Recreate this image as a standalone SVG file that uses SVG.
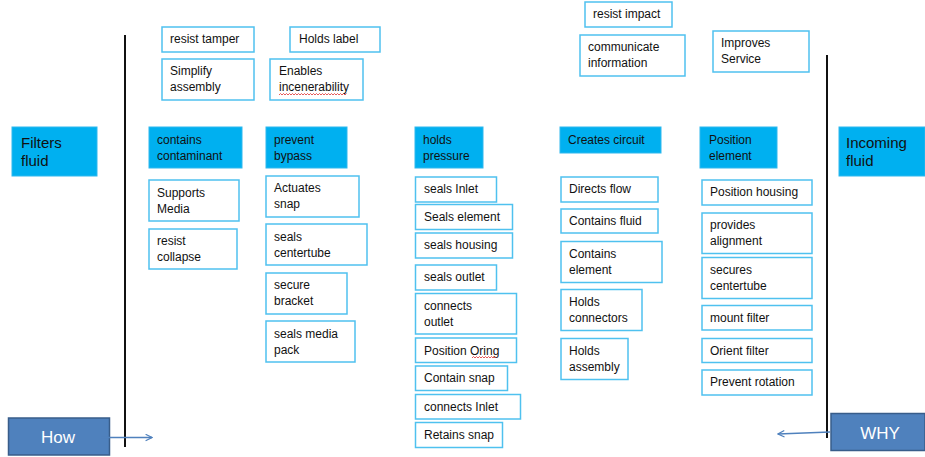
<svg xmlns="http://www.w3.org/2000/svg" width="925" height="457" viewBox="0 0 925 457">
<style>
.b{fill:#fff;stroke:#4FC1EF;stroke-width:1.5}
.h{fill:#00B0F0;stroke:#2FB8EE;stroke-width:1}
.k{fill:#4F81BD;stroke:#385D8A;stroke-width:1.5}
text{font-family:"Liberation Sans",Arial,sans-serif;font-size:12px;fill:#111}
.big{font-size:15px}
.w{font-size:17px;fill:#fff;text-anchor:middle}
.sq{fill:none;stroke:#E03030;stroke-width:0.8}
</style>
<defs>
<marker id="ar" viewBox="0 0 10 10" refX="9" refY="5" markerWidth="8" markerHeight="8" orient="auto" markerUnits="userSpaceOnUse">
<path d="M1,1 L9,5 L1,9" fill="none" stroke="#4F81BD" stroke-width="1.5"/>
</marker>
</defs>
<g id="axes">
<line x1="125" y1="35" x2="125" y2="447" stroke="#111" stroke-width="2"/>
<line x1="827" y1="55" x2="827" y2="438" stroke="#111" stroke-width="2"/>
</g>
<g id="n-filters"><rect class="h" x="12" y="127" width="85" height="49"/><text class="big" x="21" y="148">Filters</text><text class="big" x="21" y="166">fluid</text></g>
<g id="n-incoming"><rect class="h" x="839" y="127" width="86" height="49"/><text class="big" x="846" y="148">Incoming</text><text class="big" x="846" y="166">fluid</text></g>
<g id="n-how"><rect class="k" x="8.5" y="418" width="101" height="37"/><text class="w" x="58" y="443">How</text></g>
<g id="n-why"><rect class="k" x="831" y="413.5" width="94" height="37"/><text class="w" x="880" y="439">WHY</text></g>

<g id="n-resist-tamper"><rect class="b" x="162" y="27" width="92" height="25"/><text x="170" y="43">resist tamper</text></g>
<g id="n-holds-label"><rect class="b" x="290" y="27" width="90" height="25"/><text x="299" y="43">Holds label</text></g>
<g id="n-simplify"><rect class="b" x="162" y="59" width="92" height="41"/><text x="170" y="75">Simplify</text><text x="170" y="91">assembly</text></g>
<g id="n-enables"><rect class="b" x="270" y="59" width="93" height="41"/><text x="279" y="75">Enables</text><text x="279" y="91">incenerability</text>
<path class="sq" d="M279,95 l1.5,-1.5 l1.5,1.5 l1.5,-1.5 l1.5,1.5 l1.5,-1.5 l1.5,1.5 l1.5,-1.5 l1.5,1.5 l1.5,-1.5 l1.5,1.5 l1.5,-1.5 l1.5,1.5 l1.5,-1.5 l1.5,1.5 l1.5,-1.5 l1.5,1.5 l1.5,-1.5 l1.5,1.5 l1.5,-1.5 l1.5,1.5 l1.5,-1.5 l1.5,1.5 l1.5,-1.5 l1.5,1.5 l1.5,-1.5 l1.5,1.5 l1.5,-1.5 l1.5,1.5 l1.5,-1.5 l1.5,1.5 l1.5,-1.5 l1.5,1.5 l1.5,-1.5 l1.5,1.5 l1.5,-1.5 l1.5,1.5 l1.5,-1.5 l1.5,1.5 l1.5,-1.5 l1.5,1.5 l1.5,-1.5 l1.5,1.5 l1.5,-1.5 l1.5,1.5 l1.5,-1.5"/></g>
<g id="n-resist-impact"><rect class="b" x="585" y="2" width="87" height="25"/><text x="593" y="18">resist impact</text></g>
<g id="n-communicate"><rect class="b" x="580" y="35" width="105" height="41"/><text x="588" y="51">communicate</text><text x="588" y="67">information</text></g>
<g id="n-improves"><rect class="b" x="713" y="31" width="96" height="41"/><text x="721" y="47">Improves</text><text x="721" y="63">Service</text></g>

<g id="n-contains-contaminant"><rect class="h" x="149" y="127" width="93" height="41"/><text x="157" y="144">contains</text><text x="157" y="160">contaminant</text></g>
<g id="n-prevent-bypass"><rect class="h" x="266" y="127" width="81" height="41"/><text x="274" y="144">prevent</text><text x="274" y="160">bypass</text></g>
<g id="n-holds-pressure"><rect class="h" x="415" y="127" width="68" height="41"/><text x="423" y="144">holds</text><text x="423" y="160">pressure</text></g>
<g id="n-creates-circuit"><rect class="h" x="560" y="127" width="101" height="26"/><text x="568" y="144">Creates circuit</text></g>
<g id="n-position-element"><rect class="h" x="700" y="127" width="77" height="41"/><text x="709" y="144">Position</text><text x="709" y="160">element</text></g>

<g id="n-supports-media"><rect class="b" x="149" y="180" width="90" height="41"/><text x="157" y="197">Supports</text><text x="157" y="213">Media</text></g>
<g id="n-resist-collapse"><rect class="b" x="149" y="229" width="88" height="40"/><text x="157" y="245">resist</text><text x="157" y="261">collapse</text></g>

<g id="n-actuates-snap"><rect class="b" x="266" y="176" width="93" height="41"/><text x="274" y="192">Actuates</text><text x="274" y="208">snap</text></g>
<g id="n-seals-centertube"><rect class="b" x="266" y="224" width="101" height="41"/><text x="274" y="241">seals</text><text x="274" y="257">centertube</text></g>
<g id="n-secure-bracket"><rect class="b" x="266" y="273" width="81" height="41"/><text x="274" y="289">secure</text><text x="274" y="305">bracket</text></g>
<g id="n-seals-media-pack"><rect class="b" x="266" y="321" width="89" height="41"/><text x="274" y="338">seals media</text><text x="274" y="354">pack</text></g>

<g id="n-seals-inlet"><rect class="b" x="415.5" y="177" width="81" height="25"/><text x="424" y="193">seals Inlet</text></g>
<g id="n-seals-element"><rect class="b" x="415.5" y="204.5" width="97" height="25"/><text x="424" y="221">Seals element</text></g>
<g id="n-seals-housing"><rect class="b" x="415.5" y="233" width="97" height="25"/><text x="424" y="249">seals housing</text></g>
<g id="n-seals-outlet"><rect class="b" x="415.5" y="265" width="81" height="25"/><text x="424" y="281">seals outlet</text></g>
<g id="n-connects-outlet"><rect class="b" x="415.5" y="293.5" width="101" height="40.5"/><text x="424" y="310">connects</text><text x="424" y="326">outlet</text></g>
<g id="n-position-oring"><rect class="b" x="415.5" y="338" width="101" height="24.5"/><text x="424" y="355">Position Oring</text>
<path class="sq" d="M472,358 l1.5,-1.5 l1.5,1.5 l1.5,-1.5 l1.5,1.5 l1.5,-1.5 l1.5,1.5 l1.5,-1.5 l1.5,1.5 l1.5,-1.5 l1.5,1.5 l1.5,-1.5 l1.5,1.5 l1.5,-1.5 l1.5,1.5 l1.5,-1.5 l1.5,1.5"/></g>
<g id="n-contain-snap"><rect class="b" x="415.5" y="366" width="92" height="24.5"/><text x="424" y="382">Contain snap</text></g>
<g id="n-connects-inlet"><rect class="b" x="415.5" y="394.5" width="105" height="24.5"/><text x="424" y="411">connects Inlet</text></g>
<g id="n-retains-snap"><rect class="b" x="415.5" y="422.5" width="87" height="25"/><text x="424" y="439">Retains snap</text></g>

<g id="n-directs-flow"><rect class="b" x="561" y="177" width="97" height="25"/><text x="569" y="193">Directs flow</text></g>
<g id="n-contains-fluid"><rect class="b" x="561" y="209" width="97" height="24"/><text x="569" y="225">Contains fluid</text></g>
<g id="n-contains-element"><rect class="b" x="561" y="241.5" width="101" height="41"/><text x="569" y="258">Contains</text><text x="569" y="274">element</text></g>
<g id="n-holds-connectors"><rect class="b" x="561" y="289.5" width="81" height="41"/><text x="569" y="306">Holds</text><text x="569" y="322">connectors</text></g>
<g id="n-holds-assembly"><rect class="b" x="561" y="338.5" width="67" height="41"/><text x="569" y="355">Holds</text><text x="569" y="371">assembly</text></g>

<g id="n-position-housing"><rect class="b" x="702" y="180" width="110" height="25"/><text x="710" y="196">Position housing</text></g>
<g id="n-provides-alignment"><rect class="b" x="702" y="213" width="110" height="40.5"/><text x="710" y="229">provides</text><text x="710" y="245">alignment</text></g>
<g id="n-secures-centertube"><rect class="b" x="702" y="257.5" width="110" height="41"/><text x="710" y="274">secures</text><text x="710" y="290">centertube</text></g>
<g id="n-mount-filter"><rect class="b" x="702" y="305.5" width="110" height="24.5"/><text x="710" y="322">mount  filter</text></g>
<g id="n-orient-filter"><rect class="b" x="702" y="338.5" width="110" height="24"/><text x="710" y="355">Orient filter</text></g>
<g id="n-prevent-rotation"><rect class="b" x="702" y="370" width="110" height="25"/><text x="710" y="386">Prevent rotation</text></g>

<g id="connectors" stroke="#4F81BD" stroke-width="1.5" fill="none">
<line x1="101" y1="437.5" x2="152" y2="437.5" marker-end="url(#ar)"/>
<line x1="830" y1="432" x2="778" y2="434" marker-end="url(#ar)"/>
</g>
</svg>
